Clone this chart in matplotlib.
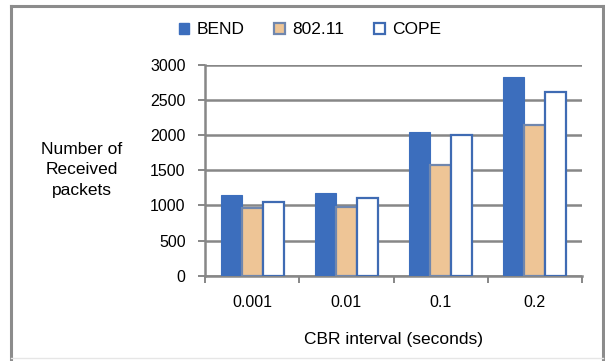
import matplotlib
matplotlib.use("Agg")
import matplotlib.pyplot as plt
import numpy as np
from matplotlib.lines import Line2D
from matplotlib.patches import Patch

# Data
categories = ["0.001", "0.01", "0.1", "0.2"]
bend = [1150, 1180, 2050, 2830]
wifi = [970, 975, 1570, 2150]
cope = [1050, 1100, 2000, 2610]
series_names = ["BEND", "802.11", "COPE"]
y_ticks = [0, 500, 1000, 1500, 2000, 2500, 3000]

plt.rcParams["font.family"] = ["Liberation Sans", "DejaVu Sans"]

W, H = 605, 361
fig = plt.figure(figsize=(W / 100, H / 100), dpi=100)
fig.patch.set_facecolor("white")

ax = fig.add_axes([205 / W, 1 - 275.7 / H, (582 - 205) / W, (275.7 - 65) / H])

grid_col = "#878787"
bend_col = "#3C6EBD"
wifi_face = "#EEC596"
wifi_edge = "#7087AE"
cope_edge = "#3F6BB3"

x = np.arange(len(categories))
bw = 0.223
ax.bar(x - bw, bend, bw, color=bend_col, edgecolor=bend_col, linewidth=0.8, zorder=3)
ax.bar(x, wifi, bw, color=wifi_face, edgecolor=wifi_edge, linewidth=1.6, zorder=3)
ax.bar(x + bw, cope, bw, color="white", edgecolor=cope_edge, linewidth=1.6, zorder=3)

ax.set_xlim(-0.5, len(categories) - 0.5)
ax.set_ylim(0, 3000)
ax.set_yticks(y_ticks)
ax.set_yticklabels([str(v) for v in y_ticks], fontsize=11.5)
ax.yaxis.grid(True, color=grid_col, linewidth=1.8, zorder=0)
ax.set_axisbelow(True)

# Category boundaries carry tick marks; labels sit at the centres
ax.set_xticks(np.arange(len(categories) + 1) - 0.5)
ax.set_xticklabels([])
ax.set_xticks(x, minor=True)
ax.set_xticklabels(categories, minor=True, fontsize=11.5)
ax.tick_params(axis="x", which="major", length=5, width=1.4, color=grid_col, direction="out")
ax.tick_params(axis="x", which="minor", length=0, pad=14)
ax.tick_params(axis="y", length=5, width=1.4, color=grid_col, pad=9)

for s in ["top", "right"]:
    ax.spines[s].set_visible(False)
for s in ["left", "bottom"]:
    ax.spines[s].set_color(grid_col)
    ax.spines[s].set_linewidth(1.8)

ax.set_xlabel("CBR interval (seconds)", fontsize=12.5, labelpad=16)
fig.text(82 / W, 1 - 170 / H, "Number of\nReceived\npackets", ha="center", va="center",
         fontsize=12.5, linespacing=1.42)

handles = [
    Patch(facecolor=bend_col, edgecolor=bend_col),
    Patch(facecolor=wifi_face, edgecolor=wifi_edge, linewidth=1.6),
    Patch(facecolor="white", edgecolor=cope_edge, linewidth=1.6),
]
fig.legend(handles, series_names, loc="center", bbox_to_anchor=(310 / W, 1 - 30 / H),
           ncol=3, frameon=False, fontsize=12.5, handlelength=0.6, handleheight=0.6,
           handletextpad=0.45, columnspacing=1.7)

# Outer frame
frame_col = "#8c8c8c"
fig.add_artist(Line2D([11.5 / W, 11.5 / W], [0, 1 - 5.5 / H], color=frame_col, lw=2.2,
                      transform=fig.transFigure))
fig.add_artist(Line2D([10.5 / W, 603 / W], [1 - 5.5 / H, 1 - 5.5 / H], color=frame_col, lw=2.2,
                      transform=fig.transFigure))
fig.add_artist(Line2D([602.5 / W, 602.5 / W], [0, 1 - 5.5 / H], color=frame_col, lw=2.2,
                      transform=fig.transFigure))
fig.add_artist(Line2D([11.5 / W, 602.5 / W], [3.5 / H, 3.5 / H], color="#e6e6e6", lw=1.0,
                      transform=fig.transFigure))

fig.savefig("out.png", dpi=100)
